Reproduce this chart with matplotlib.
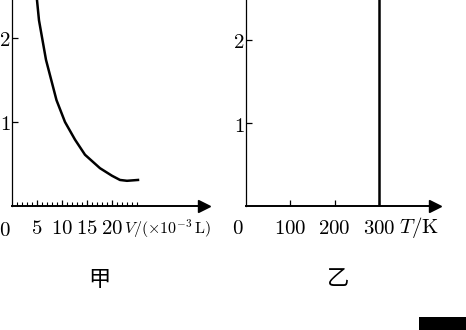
import matplotlib
matplotlib.use('Agg')
import matplotlib.pyplot as plt
from matplotlib.patches import Rectangle

plt.rcParams['mathtext.fontset'] = 'cm'
plt.rcParams['font.family'] = ['Noto Sans CJK SC', 'DejaVu Sans']

# 甲: p-V curve (V in 1e-3 L)
V_curve = [4.8, 5.0, 5.4, 6.8, 8.9, 10.6, 12.6, 14.6, 17.6, 20.0, 21.6, 23.0, 25.2]
P_curve = [2.6, 2.45, 2.21, 1.74, 1.26, 1.0, 0.79, 0.61, 0.45, 0.36, 0.31, 0.30, 0.31]
V_ticks = [5, 10, 15, 20]
V_minor = list(range(1, 26))
P_ticks = [1, 2]

# 乙: p-T, vertical line at T = 300 K
T_line = [300, 300]
P_line = [0, 2.6]
T_ticks = [100, 200, 300]

W, H = 466, 330
fig = plt.figure(figsize=(W / 100, H / 100), dpi=100)

def px_axes(x0, y_axis, x1):
    # x0: origin px, y_axis: x-axis row px from top, x1: arrow tip px
    return fig.add_axes([x0 / W, (H - y_axis) / H, (x1 - x0) / W, y_axis / H])

def style(ax):
    for s in ['top', 'right']:
        ax.spines[s].set_visible(False)
    ax.spines['left'].set_linewidth(0.9)
    ax.spines['bottom'].set_linewidth(1.4)
    ax.plot(1, 0, '>', color='k', ms=8, transform=ax.transAxes, clip_on=False)
    ax.tick_params(axis='both', direction='in', length=4, width=0.9, labelsize=15)
    ax.tick_params(axis='x', pad=8)
    ax.tick_params(axis='y', pad=1)
    ax.set_facecolor('none')

# left panel
ax1 = px_axes(12, 206, 204)
ax1.set_xlim(0, 192 / 5)
ax1.set_ylim(0, 206 / 84)
ax1.plot(V_curve, P_curve, color='k', lw=1.8)
style(ax1)
ax1.set_xticks(V_ticks)
ax1.set_xticklabels(['$%d$' % v for v in V_ticks])
ax1.set_xticks(V_minor, minor=True)
ax1.tick_params(axis='x', which='minor', direction='in', length=3, width=0.8)
ax1.set_yticks(P_ticks)
ax1.set_yticklabels(['$%d$' % p for p in P_ticks])
ax1.annotate('$0$', (0, 0), xycoords='data', xytext=(-7, -24), textcoords='offset pixels',
             ha='center', va='center', fontsize=15, annotation_clip=False)
ax1.text(124, H - 229, r'$V/(\times 10^{-3}\,\mathrm{L})$', transform=None, fontsize=11.5,
         ha='left', va='center')
fig.text(99 / W, 1 - 279 / H, '甲', fontsize=16, ha='center', va='center')

# right panel
ax2 = px_axes(246, 206, 435)
ax2.set_xlim(0, 189 / 0.443)
ax2.set_ylim(0, 206 / 83)
ax2.plot(T_line, P_line, color='k', lw=1.8)
style(ax2)
ax2.set_xticks(T_ticks)
ax2.set_xticklabels(['$%d$' % t for t in T_ticks])
ax2.set_yticks(P_ticks)
ax2.set_yticklabels(['$%d$' % p for p in P_ticks])
ax2.annotate('$0$', (0, 0), xycoords='data', xytext=(-8, -22), textcoords='offset pixels',
             ha='center', va='center', fontsize=15, annotation_clip=False)
ax2.text(419, H - 227, r'$T/\mathrm{K}$', transform=None, fontsize=15, ha='center', va='center')
fig.text(338 / W, 1 - 279 / H, '乙', fontsize=16, ha='center', va='center')

fig.patches.append(Rectangle((419 / W, 0), 47 / W, 13 / H, transform=fig.transFigure,
                             facecolor='k', edgecolor='none'))

fig.savefig('out.png', dpi=100)
